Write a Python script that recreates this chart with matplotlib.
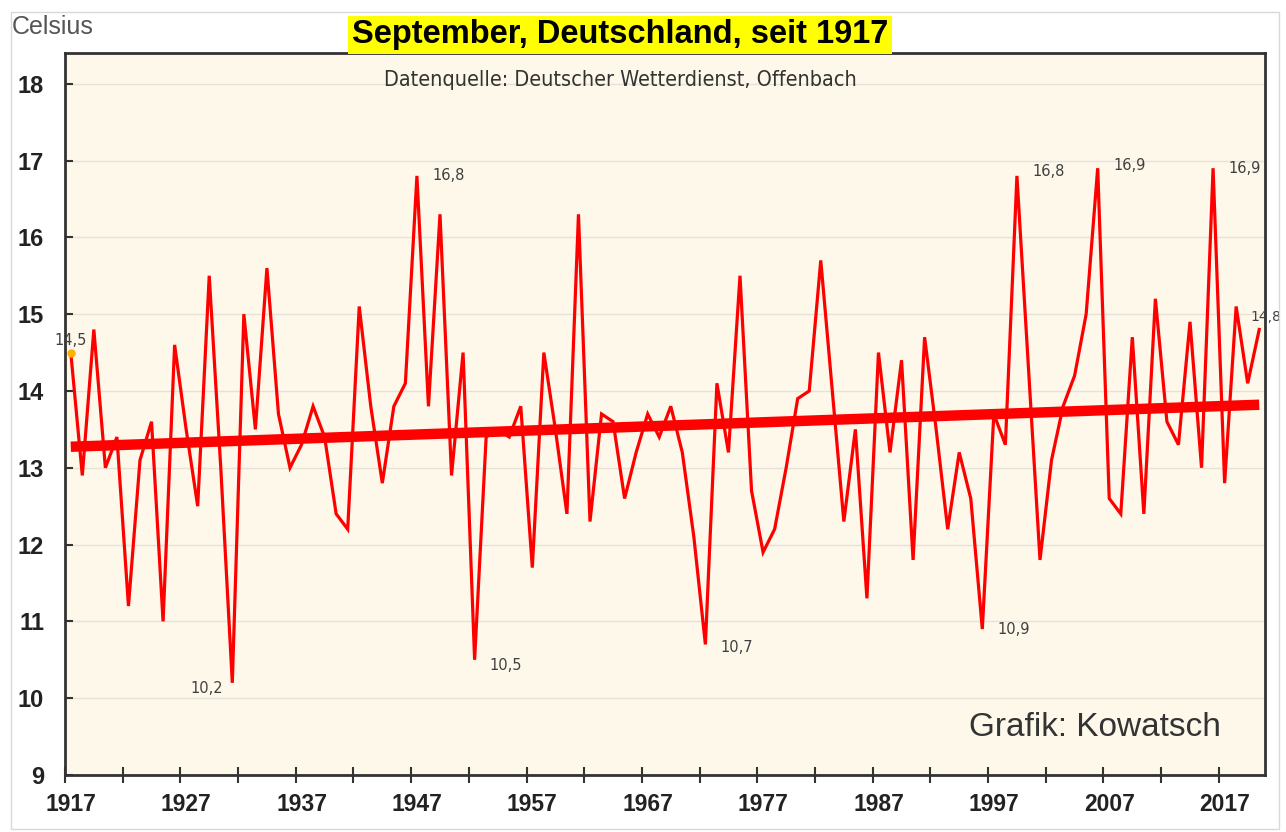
import matplotlib
matplotlib.use("Agg")
import matplotlib.pyplot as plt
from matplotlib.patches import Rectangle
import numpy as np

years = list(range(1917, 2021))
temps = [
    14.5, 12.9, 14.8, 13.0, 13.4, 11.2, 13.1, 13.6, 11.0, 14.6,   # 1917-1926
    13.5, 12.5, 15.5, 13.0, 10.2, 15.0, 13.5, 15.6, 13.7, 13.0,   # 1927-1936
    13.3, 13.8, 13.4, 12.4, 12.2, 15.1, 13.8, 12.8, 13.8, 14.1,   # 1937-1946
    16.8, 13.8, 16.3, 12.9, 14.5, 10.5, 13.4, 13.5, 13.4, 13.8,   # 1947-1956
    11.7, 14.5, 13.5, 12.4, 16.3, 12.3, 13.7, 13.6, 12.6, 13.2,   # 1957-1966
    13.7, 13.4, 13.8, 13.2, 12.1, 10.7, 14.1, 13.2, 15.5, 12.7,   # 1967-1976
    11.9, 12.2, 13.0, 13.9, 14.0, 15.7, 14.0, 12.3, 13.5, 11.3,   # 1977-1986
    14.5, 13.2, 14.4, 11.8, 14.7, 13.5, 12.2, 13.2, 12.6, 10.9,   # 1987-1996
    13.7, 13.3, 16.8, 14.3, 11.8, 13.1, 13.8, 14.2, 15.0, 16.9,   # 1997-2006
    12.6, 12.4, 14.7, 12.4, 15.2, 13.6, 13.3, 14.9, 13.0, 16.9,   # 2007-2016
    12.8, 15.1, 14.1, 14.8,                                       # 2017-2020
]

label_years = [1917, 1931, 1947, 1952, 1972, 1996, 1999, 2006, 2016, 2020]
label_texts = ["14,5", "10,2", "16,8", "10,5", "10,7", "10,9", "16,8", "16,9", "16,9", "14,8"]
label_offsets = [(0, 9), (-7, -4), (11, 0), (11, -4), (11, -2), (11, 0), (11, 3), (11, 2), (11, 0), (-6, 9)]
label_ha = ["center", "right", "left", "left", "left", "left", "left", "left", "left", "left"]

x_label_years = list(range(1917, 2018, 10))
y_ticks = list(range(9, 19))

W, H = 1286, 832
fig = plt.figure(figsize=(W / 100, H / 100), dpi=100)
fig.patch.set_facecolor("white")

# outer light frame
fig.patches.append(Rectangle((11 / W, 3 / H), 1268 / W, 817 / H, transform=fig.transFigure,
                             fill=False, edgecolor="#d8d8d8", linewidth=1.0, zorder=0))

ax = fig.add_axes([65 / W, 57 / H, 1200 / W, 722 / H])
ax.set_facecolor("#fdf8ea")

x = np.array(years, dtype=float)
y = np.array(temps)

ax.plot(x, y, color="#ff0000", lw=2.3, zorder=3, solid_joinstyle="miter")

# linear trend
coef = np.polyfit(x, y, 1)
xt = np.array([x[0], x[-1]])
ax.plot(xt, np.polyval(coef, xt), color="#ff0000", lw=7.5, solid_capstyle="butt", zorder=4)

# first point marker
ax.plot([x[0]], [y[0]], marker="o", ms=5, color="#ffb000", zorder=5)

for yr, txt, off, ha in zip(label_years, label_texts, label_offsets, label_ha):
    i = years.index(yr)
    fs = 10 if yr == 2020 else 10.5
    ax.annotate(txt, (years[i], temps[i]), xytext=off, textcoords="offset points",
                fontsize=fs, color="#404040", ha=ha, va="center", family="DejaVu Sans",
                zorder=6, annotation_clip=False)

ax.set_xlim(1916.5, 2020.5)
ax.set_ylim(9, 18.4)

ax.set_yticks(y_ticks)
ax.set_yticklabels([str(v) for v in y_ticks])
ax.grid(axis="y", color="#e6e2d8", lw=1.0, zorder=1)
ax.set_axisbelow(True)

ax.set_xticks(x_label_years)
ax.set_xticklabels([str(v) for v in x_label_years])
ax.set_xticks(np.arange(1916.5, 2021, 5), minor=True)
ax.tick_params(axis="x", which="major", length=0, pad=13, labelsize=16.5)
ax.tick_params(axis="x", which="minor", length=11, width=1.5, direction="inout", color="#333333")
ax.tick_params(axis="y", which="major", length=6, width=1.5, direction="in", pad=15, labelsize=17,
               color="#333333")
for lab in ax.get_xticklabels() + ax.get_yticklabels():
    lab.set_fontweight("bold")
    lab.set_family("Liberation Sans")
    lab.set_color("#222222")

for s in ax.spines.values():
    s.set_color("#333333")
    s.set_linewidth(2.0)

fig.text(12 / W, 1 - 27 / H, "Celsius", fontsize=18, color="#555555", family="Liberation Sans",
         ha="left", va="center")

fig.text(620 / W, 1 - 35 / H, "September, Deutschland, seit 1917", fontsize=23.5, fontweight="bold",
         family="Liberation Sans", color="black", ha="center", va="center",
         bbox=dict(boxstyle="square,pad=0.12", facecolor="#ffff00", edgecolor="none"), zorder=10)

fig.text(620 / W, 1 - 80 / H, "Datenquelle: Deutscher Wetterdienst, Offenbach", fontsize=15.5,
         family="DejaVu Sans", fontstretch="condensed", color="#333333", ha="center", va="center")

ax.text(0.963, 0.066, "Grafik: Kowatsch", transform=ax.transAxes, fontsize=24,
        family="Liberation Sans", color="#333333", ha="right", va="center")

fig.savefig("out.png", dpi=100)
